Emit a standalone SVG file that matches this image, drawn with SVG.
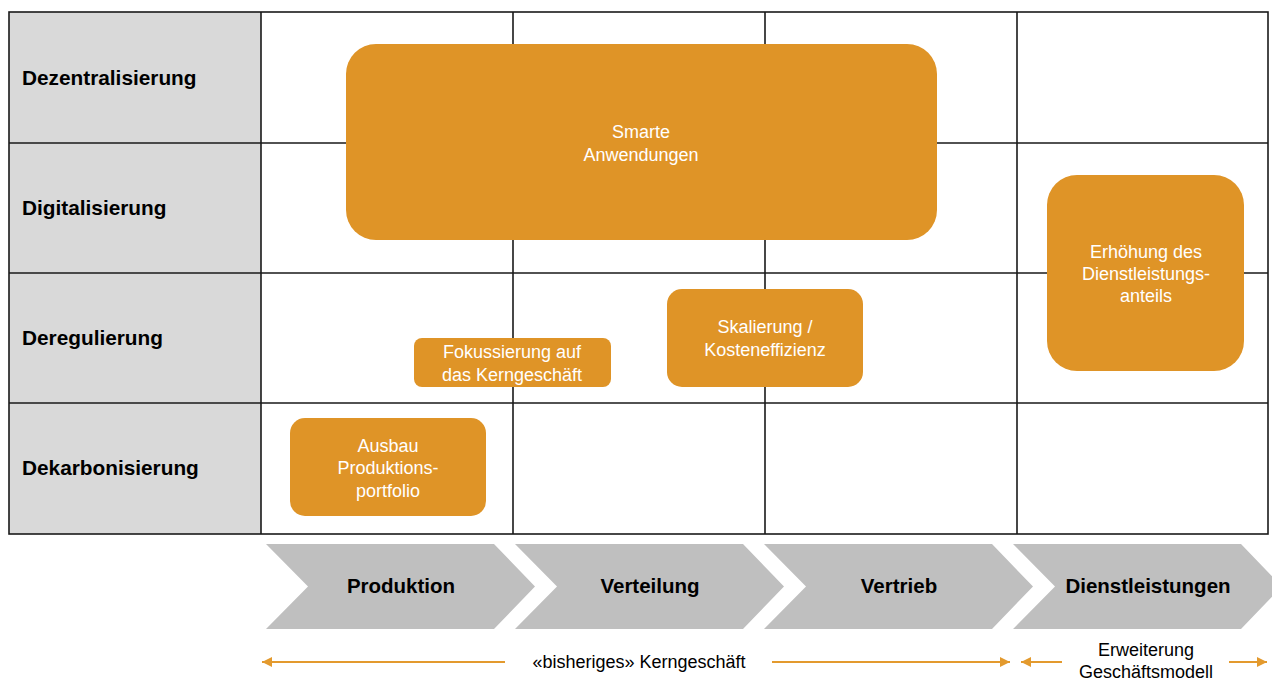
<svg xmlns="http://www.w3.org/2000/svg" width="1272" height="680" viewBox="0 0 1272 680">
<style>
.lbl{font-family:"Liberation Sans",Arial,sans-serif;font-size:20.8px;font-weight:bold;fill:#000}
.box{fill:#DF9427}
.bt{font-family:"Liberation Sans",Arial,sans-serif;font-size:18px;fill:#fff;text-anchor:middle}
.chev{fill:#BFBFBF}
.ct{font-family:"Liberation Sans",Arial,sans-serif;font-size:20.5px;font-weight:bold;fill:#000;text-anchor:middle}
.grid{stroke:#1a1a1a;stroke-width:1.6;fill:none}
.arr{stroke:#E39A2E;stroke-width:2;fill:none}
.ft{font-family:"Liberation Sans",Arial,sans-serif;font-size:18px;fill:#000;text-anchor:middle}
</style>
<defs>
<marker id="ah" viewBox="0 0 10 10" refX="10" refY="5" markerWidth="6" markerHeight="5" orient="auto-start-reverse" markerUnits="strokeWidth">
<path d="M0,0 L10,5 L0,10 z" fill="#E39A2E"/>
</marker>
</defs>
<rect width="1272" height="680" fill="#fff"/>
<g id="grid">
<rect x="9" y="12" width="252" height="522" fill="#D9D9D9"/>
<rect x="9" y="12" width="1259" height="522" class="grid"/>
<path class="grid" d="M9,143H1268M9,273H1268M9,403H1268M261,12V534M513,12V534M765,12V534M1017,12V534"/>
</g>
<g id="row-labels">
<text class="lbl" x="22" y="85">Dezentralisierung</text>
<text class="lbl" x="22" y="215">Digitalisierung</text>
<text class="lbl" x="22" y="345">Deregulierung</text>
<text class="lbl" x="22" y="475">Dekarbonisierung</text>
</g>
<g id="smarte">
<rect class="box" x="346" y="44" width="591" height="196" rx="30"/>
<text class="bt" x="641" y="138">Smarte</text>
<text class="bt" x="641" y="161">Anwendungen</text>
</g>
<g id="erhoehung">
<rect class="box" x="1047" y="175" width="197" height="196" rx="30"/>
<text class="bt" x="1146" y="258">Erhöhung des</text>
<text class="bt" x="1146" y="280">Dienstleistungs-</text>
<text class="bt" x="1146" y="302">anteils</text>
</g>
<g id="fokussierung">
<rect class="box" x="414" y="338" width="197" height="49" rx="8"/>
<text class="bt" x="512" y="358">Fokussierung auf</text>
<text class="bt" x="512" y="381">das Kerngeschäft</text>
</g>
<g id="skalierung">
<rect class="box" x="667" y="289" width="196" height="98" rx="15"/>
<text class="bt" x="765" y="333">Skalierung /</text>
<text class="bt" x="765" y="356">Kosteneffizienz</text>
</g>
<g id="ausbau">
<rect class="box" x="290" y="418" width="196" height="98" rx="15"/>
<text class="bt" x="388" y="452">Ausbau</text>
<text class="bt" x="388" y="474">Produktions-</text>
<text class="bt" x="388" y="497">portfolio</text>
</g>
<g id="produktion">
<path class="chev" d="M266,544H494L535,586.5L494,629H266L308,586.5Z"/>
<text class="ct" x="401" y="593">Produktion</text>
</g>
<g id="verteilung">
<path class="chev" d="M515,544H743L784,586.5L743,629H515L557,586.5Z"/>
<text class="ct" x="650" y="593">Verteilung</text>
</g>
<g id="vertrieb">
<path class="chev" d="M764,544H992L1033,586.5L992,629H764L806,586.5Z"/>
<text class="ct" x="899" y="593">Vertrieb</text>
</g>
<g id="dienstleistungen">
<path class="chev" d="M1013,544H1241L1282,586.5L1241,629H1013L1055,586.5Z"/>
<text class="ct" x="1148" y="593">Dienstleistungen</text>
</g>
<g id="connectors">
<line class="arr" x1="505" y1="662" x2="262" y2="662" marker-end="url(#ah)"/>
<line class="arr" x1="772" y1="662" x2="1010" y2="662" marker-end="url(#ah)"/>
<line class="arr" x1="1062" y1="662" x2="1021" y2="662" marker-end="url(#ah)"/>
<line class="arr" x1="1229" y1="662" x2="1267" y2="662" marker-end="url(#ah)"/>
</g>
<g id="footer-labels">
<text class="ft" x="639" y="668">«bisheriges» Kerngeschäft</text>
<text class="ft" x="1146" y="656">Erweiterung</text>
<text class="ft" x="1146" y="678">Geschäftsmodell</text>
</g>
</svg>
